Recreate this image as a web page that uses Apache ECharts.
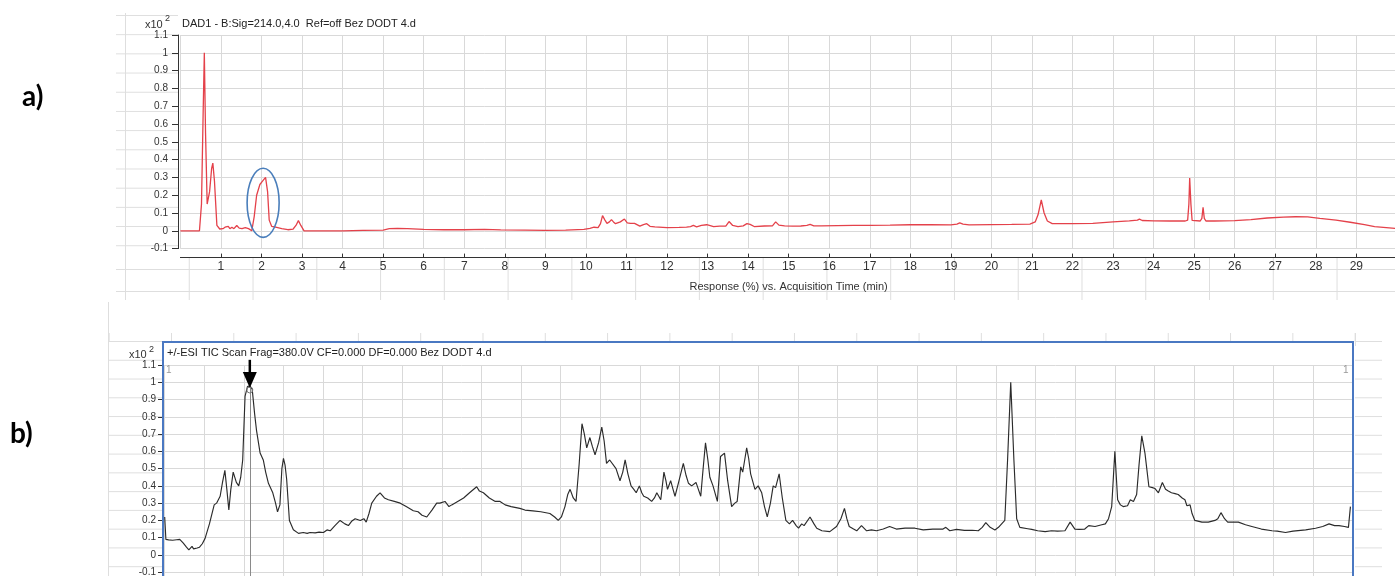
<!DOCTYPE html>
<html><head><meta charset="utf-8">
<script src="https://cdn.jsdelivr.net/npm/echarts@6/dist/echarts.min.js"></script>
<style>
html,body{margin:0;padding:0;background:#fff;}
#wrap{position:relative;width:1395px;height:576px;overflow:hidden;}
#chart{position:absolute;left:0;top:0;width:1395px;height:576px;z-index:2;}
.bg{position:absolute;z-index:1;}
.hl{background-image:linear-gradient(to bottom,#dedede 0,#dedede 1px,transparent 1px);}
.vl{background-image:linear-gradient(to right,#dedede 0,#dedede 1px,transparent 1px);}
</style></head><body>
<div id="wrap">
 <div class="bg hl" style="left:116px;top:15px;width:62px;height:240px;background-size:100% 19.2px;"></div>
 <div class="bg" style="left:125px;top:13px;width:1px;height:287px;background:#dedede;"></div>
 <div class="bg vl" style="left:116px;top:258px;width:1279px;height:42px;background-size:63.77px 100%;background-position:9px 0;"></div>
 <div class="bg" style="left:116px;top:269px;width:1279px;height:1px;background:#dedede;"></div>
 <div class="bg" style="left:116px;top:291px;width:1279px;height:1px;background:#dedede;"></div>
 <div class="bg vl" style="left:108px;top:333px;width:1250px;height:9px;background-size:62.3px 100%;background-position:63px 0;"></div>
 <div class="bg hl" style="left:108px;top:341px;width:55px;height:235px;background-size:100% 18.78px;"></div>
 <div class="bg" style="left:108px;top:302px;width:1px;height:274px;background:#dedede;"></div>
 <div class="bg hl" style="left:1355px;top:341px;width:27px;height:235px;background-size:100% 18.78px;"></div>
 <div class="bg" style="left:1355px;top:333px;width:1px;height:13px;background:#dedede;"></div>
 <div id="chart"></div>
</div>
<script>
// ---- data (time in min, response in x10^2 %) ----
const dadTrace = [[0,0],[0.47,0],[0.52,0.15],[0.56,0.65],[0.59,1.0],[0.62,0.55],[0.66,0.15],[0.72,0.22],[0.77,0.35],[0.80,0.38],[0.84,0.28],[0.90,0.03],[0.97,0.01],[1.05,0.012],[1.10,0.02],[1.14,0.01],[1.18,0.025],[1.22,0.012],[1.27,0.02],[1.32,0.012],[1.39,0.03],[1.45,0.015],[1.52,0.012],[1.60,0.018],[1.68,0.012],[1.76,0.0],[1.82,0.08],[1.88,0.2],[1.96,0.26],[2.03,0.28],[2.10,0.30],[2.15,0.22],[2.19,0.06],[2.25,0.025],[2.35,0.02],[2.5,0.012],[2.65,0.006],[2.78,0.01],[2.85,0.03],[2.91,0.057],[2.97,0.03],[3.05,0.0],[3.5,0.0],[4.0,0.0],[4.5,0.002],[5.0,0.004],[5.15,0.012],[5.35,0.014],[5.6,0.012],[6.0,0.008],[6.5,0.006],[7.0,0.006],[7.5,0.008],[7.9,0.005],[8.5,0.004],[9.0,0.002],[9.5,0.004],[9.95,0.008],[10.1,0.014],[10.2,0.02],[10.3,0.018],[10.36,0.04],[10.41,0.085],[10.47,0.06],[10.52,0.042],[10.58,0.05],[10.63,0.063],[10.68,0.05],[10.73,0.04],[10.85,0.05],[10.95,0.066],[11.02,0.045],[11.1,0.042],[11.2,0.042],[11.33,0.026],[11.42,0.035],[11.5,0.04],[11.58,0.025],[11.7,0.022],[12.0,0.018],[12.3,0.019],[12.48,0.021],[12.58,0.024],[12.65,0.03],[12.73,0.022],[12.85,0.03],[12.98,0.034],[13.15,0.023],[13.3,0.026],[13.45,0.026],[13.53,0.052],[13.62,0.03],[13.75,0.023],[13.88,0.028],[13.97,0.04],[14.05,0.036],[14.15,0.024],[14.4,0.027],[14.6,0.028],[14.68,0.05],[14.76,0.032],[14.9,0.028],[15.1,0.026],[15.3,0.027],[15.45,0.03],[15.53,0.036],[15.62,0.028],[15.8,0.028],[16.2,0.029],[16.6,0.03],[17.0,0.031],[17.5,0.032],[18.0,0.034],[18.5,0.035],[19.0,0.033],[19.15,0.038],[19.22,0.045],[19.3,0.038],[19.45,0.033],[20.0,0.035],[20.5,0.036],[20.95,0.038],[21.08,0.05],[21.15,0.09],[21.23,0.173],[21.3,0.1],[21.38,0.055],[21.5,0.04],[22.0,0.04],[22.5,0.042],[23.0,0.05],[23.4,0.056],[23.6,0.06],[23.65,0.066],[23.72,0.058],[24.0,0.056],[24.4,0.055],[24.78,0.055],[24.84,0.06],[24.87,0.15],[24.89,0.296],[24.92,0.15],[24.95,0.058],[24.99,0.055],[25.15,0.055],[25.19,0.07],[25.22,0.132],[25.25,0.07],[25.29,0.055],[25.5,0.055],[26.0,0.057],[26.4,0.063],[26.8,0.072],[27.2,0.077],[27.5,0.079],[27.8,0.078],[28.1,0.07],[28.5,0.06],[28.85,0.048],[29.2,0.035],[29.45,0.024],[30,0.013]];

const ticTrace = [[0,0.22],[0.03,0.09],[0.1,0.087],[0.2,0.085],[0.3,0.088],[0.38,0.09],[0.47,0.068],[0.55,0.045],[0.61,0.03],[0.66,0.04],[0.69,0.05],[0.73,0.035],[0.76,0.03],[0.82,0.04],[0.88,0.045],[0.95,0.065],[1.02,0.096],[1.13,0.18],[1.25,0.29],[1.31,0.30],[1.40,0.34],[1.46,0.42],[1.52,0.49],[1.57,0.38],[1.62,0.26],[1.67,0.38],[1.73,0.48],[1.81,0.42],[1.87,0.40],[1.92,0.45],[1.97,0.55],[2.03,0.92],[2.09,0.975],[2.15,0.98],[2.21,0.96],[2.27,0.82],[2.32,0.72],[2.41,0.59],[2.49,0.55],[2.55,0.48],[2.62,0.415],[2.73,0.36],[2.80,0.30],[2.85,0.25],[2.91,0.29],[2.96,0.50],[3.0,0.56],[3.04,0.52],[3.08,0.44],[3.15,0.20],[3.25,0.146],[3.38,0.125],[3.5,0.13],[3.6,0.125],[3.67,0.13],[3.8,0.128],[3.9,0.132],[4.01,0.13],[4.1,0.145],[4.18,0.14],[4.3,0.17],[4.43,0.20],[4.55,0.18],[4.64,0.17],[4.72,0.195],[4.81,0.21],[4.94,0.20],[5.03,0.21],[5.09,0.19],[5.16,0.24],[5.23,0.30],[5.35,0.34],[5.44,0.36],[5.55,0.33],[5.65,0.32],[5.8,0.31],[5.95,0.30],[6.1,0.28],[6.28,0.256],[6.4,0.25],[6.5,0.23],[6.62,0.22],[6.75,0.26],[6.87,0.30],[6.95,0.30],[7.08,0.31],[7.18,0.28],[7.25,0.29],[7.4,0.31],[7.55,0.33],[7.7,0.36],[7.88,0.395],[7.95,0.37],[8.05,0.36],[8.2,0.33],[8.35,0.31],[8.47,0.31],[8.6,0.29],[8.75,0.28],[8.97,0.27],[9.1,0.26],[9.3,0.255],[9.5,0.25],[9.73,0.24],[9.85,0.22],[9.94,0.20],[10.02,0.22],[10.11,0.28],[10.18,0.35],[10.24,0.38],[10.32,0.33],[10.39,0.31],[10.47,0.53],[10.54,0.76],[10.60,0.70],[10.66,0.62],[10.74,0.68],[10.80,0.63],[10.87,0.58],[10.96,0.65],[11.04,0.74],[11.10,0.66],[11.16,0.53],[11.24,0.55],[11.29,0.56],[11.4,0.50],[11.5,0.43],[11.57,0.48],[11.63,0.55],[11.7,0.47],[11.78,0.40],[11.85,0.38],[11.91,0.36],[11.99,0.40],[12.05,0.36],[12.1,0.34],[12.2,0.33],[12.30,0.31],[12.37,0.33],[12.43,0.36],[12.48,0.34],[12.53,0.32],[12.61,0.48],[12.66,0.43],[12.70,0.38],[12.78,0.43],[12.84,0.38],[12.89,0.34],[12.98,0.42],[13.10,0.53],[13.17,0.46],[13.23,0.415],[13.31,0.40],[13.42,0.42],[13.48,0.38],[13.54,0.34],[13.60,0.50],[13.66,0.65],[13.72,0.55],[13.77,0.45],[13.85,0.40],[13.96,0.31],[14.04,0.57],[14.09,0.58],[14.14,0.59],[14.22,0.43],[14.32,0.28],[14.4,0.30],[14.46,0.31],[14.55,0.51],[14.6,0.48],[14.65,0.55],[14.70,0.62],[14.75,0.56],[14.80,0.47],[14.91,0.38],[14.99,0.40],[15.08,0.36],[15.15,0.28],[15.22,0.22],[15.30,0.30],[15.37,0.40],[15.43,0.39],[15.52,0.47],[15.6,0.33],[15.69,0.20],[15.78,0.18],[15.86,0.20],[15.95,0.17],[16.01,0.155],[16.09,0.18],[16.15,0.17],[16.3,0.22],[16.4,0.18],[16.47,0.155],[16.6,0.14],[16.8,0.135],[16.97,0.165],[17.08,0.21],[17.17,0.27],[17.23,0.21],[17.29,0.165],[17.4,0.15],[17.48,0.14],[17.6,0.17],[17.73,0.14],[17.85,0.145],[17.98,0.14],[18.15,0.15],[18.31,0.165],[18.48,0.15],[18.7,0.155],[18.95,0.155],[19.16,0.145],[19.4,0.15],[19.66,0.15],[19.73,0.16],[19.83,0.14],[20.0,0.148],[20.2,0.142],[20.4,0.143],[20.55,0.14],[20.65,0.16],[20.74,0.187],[20.85,0.16],[20.97,0.145],[21.06,0.16],[21.14,0.18],[21.22,0.20],[21.29,0.55],[21.37,1.0],[21.45,0.55],[21.52,0.21],[21.6,0.16],[21.65,0.15],[21.8,0.152],[21.9,0.148],[22.05,0.14],[22.24,0.135],[22.4,0.14],[22.55,0.138],[22.74,0.14],[22.87,0.19],[22.99,0.15],[23.1,0.148],[23.24,0.15],[23.34,0.17],[23.5,0.165],[23.67,0.175],[23.76,0.18],[23.84,0.21],[23.92,0.28],[24.0,0.60],[24.07,0.32],[24.14,0.29],[24.21,0.28],[24.32,0.285],[24.39,0.32],[24.47,0.31],[24.55,0.35],[24.61,0.52],[24.68,0.69],[24.76,0.59],[24.86,0.395],[24.95,0.39],[25.01,0.385],[25.10,0.36],[25.2,0.42],[25.28,0.38],[25.35,0.37],[25.43,0.36],[25.52,0.355],[25.6,0.35],[25.7,0.33],[25.77,0.32],[25.82,0.285],[25.86,0.28],[25.9,0.29],[25.95,0.24],[26.02,0.20],[26.2,0.19],[26.36,0.19],[26.53,0.20],[26.6,0.21],[26.68,0.245],[26.77,0.21],[26.85,0.19],[27.0,0.19],[27.12,0.19],[27.3,0.175],[27.46,0.165],[27.7,0.15],[27.97,0.14],[28.1,0.138],[28.31,0.13],[28.5,0.138],[28.82,0.145],[29.07,0.155],[29.25,0.165],[29.41,0.18],[29.55,0.17],[29.66,0.17],[29.8,0.165],[29.9,0.16],[29.95,0.28]];

const timeRange = [0, 30];
const dadRange = [-0.1, 1.1];
const ticRange = [-0.2, 1.1];
const highlightCenter = [2.04, 0.157];
const highlightRadius = [0.395, 0.194];
const arrowTime = [2.15];
const arrowSpan = [1.13, 1.06, 0.967]; // start, head base, tip

const dadTitle = 'DAD1 - B:Sig=214.0,4.0  Ref=off Bez DODT 4.d';
const ticTitle = '+/-ESI TIC Scan Frag=380.0V CF=0.000 DF=0.000 Bez DODT 4.d';
const xName = 'Response (%) vs. Acquisition Time (min)';
const panelLabels = ['a)', 'b)'];

// ---- chart ----
const FONT = '"Liberation Sans", Arial, sans-serif';
const fmt = v => String(+(+v).toFixed(1));
const grid = '#d9d9d9';
const chart = echarts.init(document.getElementById('chart'), null, {renderer: 'canvas'});
const txt = (text, left, top, size, color, weight) => ({
  text, left, top, padding: 0,
  textStyle: {fontSize: size, fontWeight: weight || 'normal', color: color, fontFamily: FONT}
});
const option = {
  animation: false,
  backgroundColor: 'transparent',
  title: [
    txt(dadTitle, 182, 18, 11, '#222'),
    txt(ticTitle, 167, 347, 11, '#222'),
    txt('x10', 145, 19, 11, '#333'),
    txt('2', 165, 14, 9, '#333'),
    txt('x10', 129, 349, 11, '#333'),
    txt('2', 149, 345, 9, '#333'),
    txt('1', 166, 365, 10, '#999'),
    txt('1', 1343, 365, 10, '#999')
  ],
  grid: [
    {left: 180.4, top: 35, width: 1216.5, height: 213.6, containLabel: false, outerBoundsMode: 'none'},
    {left: 164.7, top: 365, width: 1187.7, height: 224.5, containLabel: false, outerBoundsMode: 'none'}
  ],
  xAxis: [
    {gridIndex: 0, type: 'value', min: timeRange[0], max: timeRange[1], interval: 1, offset: 9,
     axisLine: {show: true, onZero: false, lineStyle: {color: '#333', width: 1}},
     axisTick: {show: true, inside: true, length: 4, lineStyle: {color: '#333'}},
     axisLabel: {show: true, showMinLabel: false, showMaxLabel: false, fontSize: 12, color: '#333', margin: 3, fontFamily: FONT},
     splitLine: {show: true, lineStyle: {color: grid, width: 1}},
     name: xName, nameLocation: 'middle', nameGap: 24,
     nameTextStyle: {fontSize: 11, color: '#333', fontFamily: FONT}},
    {gridIndex: 1, type: 'value', min: timeRange[0], max: timeRange[1], interval: 1,
     axisLine: {show: false, onZero: false}, axisTick: {show: false}, axisLabel: {show: false},
     splitLine: {show: true, lineStyle: {color: grid, width: 1}}}
  ],
  yAxis: [
    {gridIndex: 0, type: 'value', min: dadRange[0], max: dadRange[1], interval: 0.1, offset: 2.4,
     axisLine: {show: true, onZero: false, lineStyle: {color: '#333', width: 1}},
     axisTick: {show: true, length: 6, lineStyle: {color: '#333'}},
     axisLabel: {fontSize: 10, color: '#333', margin: 10, formatter: fmt, fontFamily: FONT},
     splitLine: {show: true, lineStyle: {color: grid, width: 1}}},
    {gridIndex: 1, type: 'value', min: ticRange[0], max: ticRange[1], interval: 0.1, offset: 1.7,
     axisLine: {show: false, onZero: false},
     axisTick: {show: true, length: 5, lineStyle: {color: '#333'}},
     axisLabel: {fontSize: 10, color: '#333', margin: 7, formatter: fmt, fontFamily: FONT},
     splitLine: {show: true, lineStyle: {color: grid, width: 1}}}
  ],
  series: [
    {type: 'line', xAxisIndex: 0, yAxisIndex: 0, data: dadTrace, symbol: 'none', silent: true,
     lineStyle: {color: '#e4414a', width: 1.3}, itemStyle: {color: '#e4414a'}},
    {type: 'line', xAxisIndex: 1, yAxisIndex: 1, data: ticTrace, symbol: 'none', silent: true,
     lineStyle: {color: '#2b2b2b', width: 1.15}, itemStyle: {color: '#2b2b2b'},
     markLine: {silent: true, symbol: ['none', 'none'], label: {show: false}, animation: false,
       lineStyle: {color: '#8a8a8a', width: 1, type: 'solid'},
       emphasis: {disabled: true},
       data: [[{coord: [arrowTime[0], arrowSpan[2]]}, {coord: [arrowTime[0], ticRange[0]]}]]}}
  ]
};
chart.setOption(option);

const p0 = p => chart.convertToPixel({gridIndex: 0}, p);
const p1 = p => chart.convertToPixel({gridIndex: 1}, p);
const c = p0(highlightCenter);
const e = p0([highlightCenter[0] + highlightRadius[0], highlightCenter[1] + highlightRadius[1]]);
const aS = p1([arrowTime[0], arrowSpan[0]]);
const aH = p1([arrowTime[0], arrowSpan[1]]);
const aT = p1([arrowTime[0], arrowSpan[2]]);

chart.setOption({
  graphic: [
    {type: 'rect', z: 50, silent: true, shape: {x: 163, y: 342, width: 1190, height: 300},
     style: {fill: 'none', stroke: '#4a78c2', lineWidth: 2}},
    {type: 'ellipse', z: 60, silent: true, shape: {cx: c[0], cy: c[1], rx: e[0] - c[0], ry: c[1] - e[1]},
     style: {fill: 'none', stroke: '#4a7ebb', lineWidth: 1.6}},
    {type: 'circle', z: 60, silent: true, shape: {cx: aT[0], cy: aT[1] + 2, r: 3},
     style: {fill: 'none', stroke: '#777', lineWidth: 1}},
    {type: 'line', z: 61, silent: true, shape: {x1: aS[0], y1: aS[1], x2: aH[0], y2: aH[1] + 1},
     style: {stroke: '#000', lineWidth: 2.5}},
    {type: 'polygon', z: 61, silent: true, shape: {points: [[aH[0] - 7, aH[1]], [aH[0] + 7, aH[1]], [aT[0], aT[1]]]},
     style: {fill: '#000'}},
    {type: 'text', z: 60, silent: true, style: {x: 22, y: 97, text: panelLabels[0], font: 'bold 28px Lato', fill: '#000', verticalAlign: 'middle'}},
    {type: 'text', z: 60, silent: true, style: {x: 10, y: 434, text: panelLabels[1], font: 'bold 28px Lato', fill: '#000', verticalAlign: 'middle'}}
  ]
});
</script>
</body></html>
